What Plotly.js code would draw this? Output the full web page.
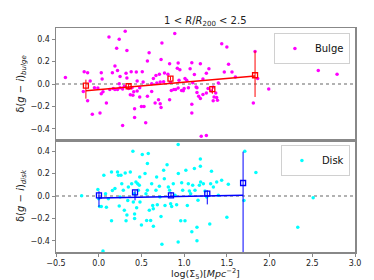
<!DOCTYPE html>
<html><head><meta charset="utf-8">
<script src="https://cdn.plot.ly/plotly-3.0.1.min.js"></script>
<style>html,body{margin:0;padding:0;background:#fff}#plot{width:374px;height:280px}</style>
</head><body><div id="plot"></div>
<script>
// Bulge scatter
const bulgeX = [-0.39,-0.17,-0.13,-0.18,-0.13,-0.075,-0.10,-0.05,-0.01,0.015,0.03,0.03,0.04,0.05,0.09,0.12,0.16,0.17,0.19,0.21,0.24,0.22,0.25,0.24,0.28,0.28,0.31,0.33,0.32,0.33,0.35,0.37,0.38,0.40,0.42,0.42,0.44,0.45,0.45,0.48,0.50,0.51,0.52,0.53,0.55,0.57,0.57,0.59,0.62,0.64,0.66,0.67,0.70,0.71,0.72,0.73,0.73,0.74,0.76,0.77,0.81,0.83,0.83,0.84,0.89,0.90,0.92,0.93,0.93,0.94,0.95,0.97,1.00,1.01,1.07,1.09,1.09,1.09,1.10,1.12,1.14,1.15,1.17,1.19,1.20,1.19,1.22,1.22,1.26,1.26,1.29,1.34,1.35,1.37,1.38,1.39,1.40,1.44,1.47,1.50,1.52,1.56,1.60,1.81,1.83,1.86,1.99,2.57,2.79,
  0.13,0.19,0.22,0.25,0.30,0.39,0.41,0.48,0.62,0.68,0.72,0.85,0.88,0.99,1.03,1.05,1.15,1.26,1.28,1.32,1.34];
const bulgeY = [0.057,0.11,0.10,-0.066,-0.15,-0.27,0.027,-0.033,-0.036,-0.26,-0.087,0.10,0.045,-0.07,-0.17,0.42,0.10,-0.04,0.16,0.32,0.40,0.12,0.066,0.003,-0.045,-0.37,0.47,0.30,0.095,0.054,-0.04,-0.095,0.11,-0.10,-0.22,-0.30,0.107,0.027,-0.063,-0.116,-0.20,0.11,0.018,-0.20,-0.346,-0.11,0.206,0.278,-0.066,0.048,-0.17,0.075,-0.14,0.087,-0.176,-0.21,0.218,0.367,0.02,0.098,0.087,0.18,-0.14,0.015,0.45,-0.048,0.14,0.188,-0.036,0.033,0.128,-0.057,-0.04,0.05,0.137,0.19,-0.18,-0.26,0.012,0.084,-0.027,-0.075,-0.11,0.18,-0.466,-0.13,0.045,-0.093,-0.46,0.095,0.137,-0.15,-0.116,-0.08,-0.12,-0.146,0.009,0.36,0.107,0.33,0.176,0.107,0.063,-0.17,0.29,0.05,-0.045,0.12,0.087,
  -0.05,-0.05,-0.05,-0.033,-0.02,-0.033,-0.07,-0.033,0.003,0.01,0.018,-0.057,-0.05,-0.06,0.033,-0.033,-0.033,-0.08,-0.04,-0.063,-0.027];
// Bulge binned means
const bulgeBinX = [-0.15,0.35,0.84,1.33,1.83];
const bulgeBinY = [-0.015,-0.02,0.048,-0.045,0.078];
const bulgeErrUp = [0.054,0.024,0.021,0.024,0.218];
const bulgeErrDown = [0.116,0.024,0.015,0.042,0.194];
const bulgeFitX = [-0.15,1.83];
const bulgeFitY = [-0.06,0.072];

// Disk scatter
const diskX = [-0.20,-0.01,0.0,0.01,0.03,0.05,0.06,0.08,0.09,0.113,0.15,0.15,0.16,0.19,0.22,0.23,0.24,0.25,0.26,0.27,0.288,0.30,0.31,0.32,0.33,0.34,0.347,0.37,0.386,0.40,0.405,0.417,0.42,0.42,0.436,0.444,0.456,0.464,0.475,0.48,0.483,0.50,0.51,0.542,0.553,0.561,0.569,0.57,0.58,0.592,0.608,0.62,0.632,0.639,0.64,0.67,0.678,0.686,0.71,0.717,0.729,0.74,0.76,0.768,0.776,0.80,0.815,0.83,0.842,0.854,0.873,0.893,0.912,0.932,0.93,0.93,0.96,0.971,0.983,1.01,1.02,1.037,1.049,1.061,1.076,1.09,1.10,1.12,1.127,1.15,1.15,1.162,1.178,1.19,1.193,1.19,1.225,1.244,1.264,1.30,1.31,1.32,1.342,1.381,1.40,1.439,1.50,1.517,1.71,1.70,1.84,2.33,2.51];
const diskY = [0.003,0.057,-0.024,-0.093,-0.093,-0.49,0.185,0.02,-0.10,-0.024,0.215,-0.22,0.05,0.066,0.215,0.185,-0.09,-0.01,0.185,0.11,0.051,-0.128,0.206,-0.22,-0.17,-0.04,0.081,0.215,0.11,0.40,-0.054,0.021,-0.16,-0.20,0.125,-0.104,0.11,0.051,0.096,0.17,-0.054,-0.26,0.37,0.20,0.021,-0.218,0.051,0.29,0.38,-0.128,-0.218,0.11,-0.084,-0.113,-0.27,0.051,0.17,-0.078,0.087,-0.009,-0.182,-0.43,0.23,0.155,-0.084,0.28,0.081,0.051,-0.069,-0.093,0.11,0.006,-0.078,0.20,0.46,-0.41,-0.22,0.119,0.051,-0.22,0.23,-0.084,0.11,0.045,0.021,-0.32,0.096,0.245,0.051,-0.28,-0.40,-0.039,0.096,0.265,0.125,0.33,0.11,0.045,-0.009,-0.25,0.11,0.22,0.081,0.125,0.006,0.14,-0.19,0.104,0.40,-0.04,0.21,-0.28,-0.015];
// Disk binned means
const diskBinX = [0.003,0.425,0.846,1.271,1.69];
const diskBinY = [0.006,0.033,0.006,0.021,0.116];
const diskErrUp = [0.036,0.018,0.03,0.03,0.28];
const diskErrDown = [0.104,0.072,0.01,0.096,0.75];
const diskFitX = [0.003,1.69];
const diskFitY = [-0.018,0.006];

const yTicks = [-0.4,-0.2,0.0,0.2,0.4];
const yTickText = ['\u22120.4','\u22120.2','0.0','0.2','0.4'];
const xTicks = [-0.5,0,0.5,1.0,1.5,2.0,2.5,3.0];
const xTickText = ['\u22120.5','0.0','0.5','1.0','1.5','2.0','2.5','3.0'];

const FONT = 'DejaVu Sans, sans-serif';
const spine = '#888888';

const traces = [
  {x: bulgeX, y: bulgeY, type:'scatter', mode:'markers', name:'Bulge', xaxis:'x2', yaxis:'y2',
   marker:{color:'#ff00ff', size:3.5}, legend:'legend'},
  {x: bulgeFitX, y: bulgeFitY, type:'scatter', mode:'lines', xaxis:'x2', yaxis:'y2', showlegend:false,
   line:{color:'#ff0000', width:1.5}},
  {x: bulgeBinX, y: bulgeBinY, type:'scatter', mode:'markers', xaxis:'x2', yaxis:'y2', showlegend:false,
   marker:{symbol:'square-open', color:'#ff0000', size:5, line:{width:1.3, color:'#ff0000'}},
   error_y:{type:'data', symmetric:false, array:bulgeErrUp, arrayminus:bulgeErrDown, color:'#ff0000', thickness:1, width:0}},
  {x: diskX, y: diskY, type:'scatter', mode:'markers', name:'Disk', xaxis:'x', yaxis:'y',
   marker:{color:'#00ffff', size:3.5}, legend:'legend2'},
  {x: diskFitX, y: diskFitY, type:'scatter', mode:'lines', xaxis:'x', yaxis:'y', showlegend:false,
   line:{color:'#0000ff', width:1.5}},
  {x: diskBinX, y: diskBinY, type:'scatter', mode:'markers', xaxis:'x', yaxis:'y', showlegend:false,
   marker:{symbol:'square-open', color:'#0000ff', size:5, line:{width:1.3, color:'#0000ff'}},
   error_y:{type:'data', symmetric:false, array:diskErrUp, arrayminus:diskErrDown, color:'#0000ff', thickness:1, width:0}}
];

const axCommon = {showline:true, mirror:true, linecolor:spine, linewidth:1.5, showgrid:false, zeroline:false,
  ticks:'outside', ticklen:3, tickcolor:spine, tickfont:{family:FONT, size:8, color:'#222'}};

const layout = {
  width:374, height:280, paper_bgcolor:'#fff', plot_bgcolor:'#fff',
  margin:{l:56, r:19, t:28, b:28},
  font:{family:FONT, size:8, color:'#222'},
  title:{text:'1 < <i>R</i>/<i>R</i><sub>200</sub> < 2.5', font:{family:FONT, size:10, color:'#222'}, x:0.549, xanchor:'center', y:0.928, yanchor:'middle'},
  xaxis: Object.assign({}, axCommon, {domain:[0,1], anchor:'y', range:[-0.5,3.0], tickvals:xTicks, ticktext:xTickText}),
  xaxis2: Object.assign({}, axCommon, {domain:[0,1], anchor:'y2', matches:'x', range:[-0.5,3.0], showticklabels:false, ticks:''}),
  yaxis: Object.assign({}, axCommon, {domain:[0,0.5], anchor:'x', range:[-0.5,0.5], tickvals:yTicks, ticktext:yTickText,
    title:{text:'\u03b4(<i>g</i> \u2212 <i>i</i>)<sub><i>disk</i></sub>', font:{family:FONT, size:10, color:'#222'}, standoff:4}}),
  yaxis2: Object.assign({}, axCommon, {domain:[0.5,1], anchor:'x2', range:[-0.5,0.5], tickvals:yTicks, ticktext:yTickText,
    title:{text:'\u03b4(<i>g</i> \u2212 <i>i</i>)<sub><i>bulge</i></sub>', font:{family:FONT, size:10, color:'#222'}, standoff:4}}),
  annotations:[
    {text:'log(\u03a3<sub>5</sub>)[<i>Mpc</i><sup>\u22122</sup>]', xref:'paper', yref:'paper', x:0.5, y:-0.098,
     xanchor:'center', yanchor:'middle', showarrow:false, font:{family:FONT, size:9.5, color:'#222'}}
  ],
  legend:{x:0.983, xanchor:'right', y:0.978, yanchor:'top', bgcolor:'#fff', bordercolor:'#d0d0d0', borderwidth:1,
    font:{family:FONT, size:10, color:'#111'}},
  legend2:{x:0.983, xanchor:'right', y:0.478, yanchor:'top', bgcolor:'#fff', bordercolor:'#d0d0d0', borderwidth:1,
    font:{family:FONT, size:10, color:'#111'}},
  shapes:[
    {type:'line', xref:'x2 domain', x0:0, x1:1, yref:'y2', y0:0, y1:0, line:{color:'#999', width:1.5, dash:'dot'}, layer:'below'},
    {type:'line', xref:'x domain', x0:0, x1:1, yref:'y', y0:0, y1:0, line:{color:'#999', width:1.5, dash:'dot'}, layer:'below'}
  ]
};

Plotly.newPlot('plot', traces, layout, {displayModeBar:false, staticPlot:true});
</script></body></html>
